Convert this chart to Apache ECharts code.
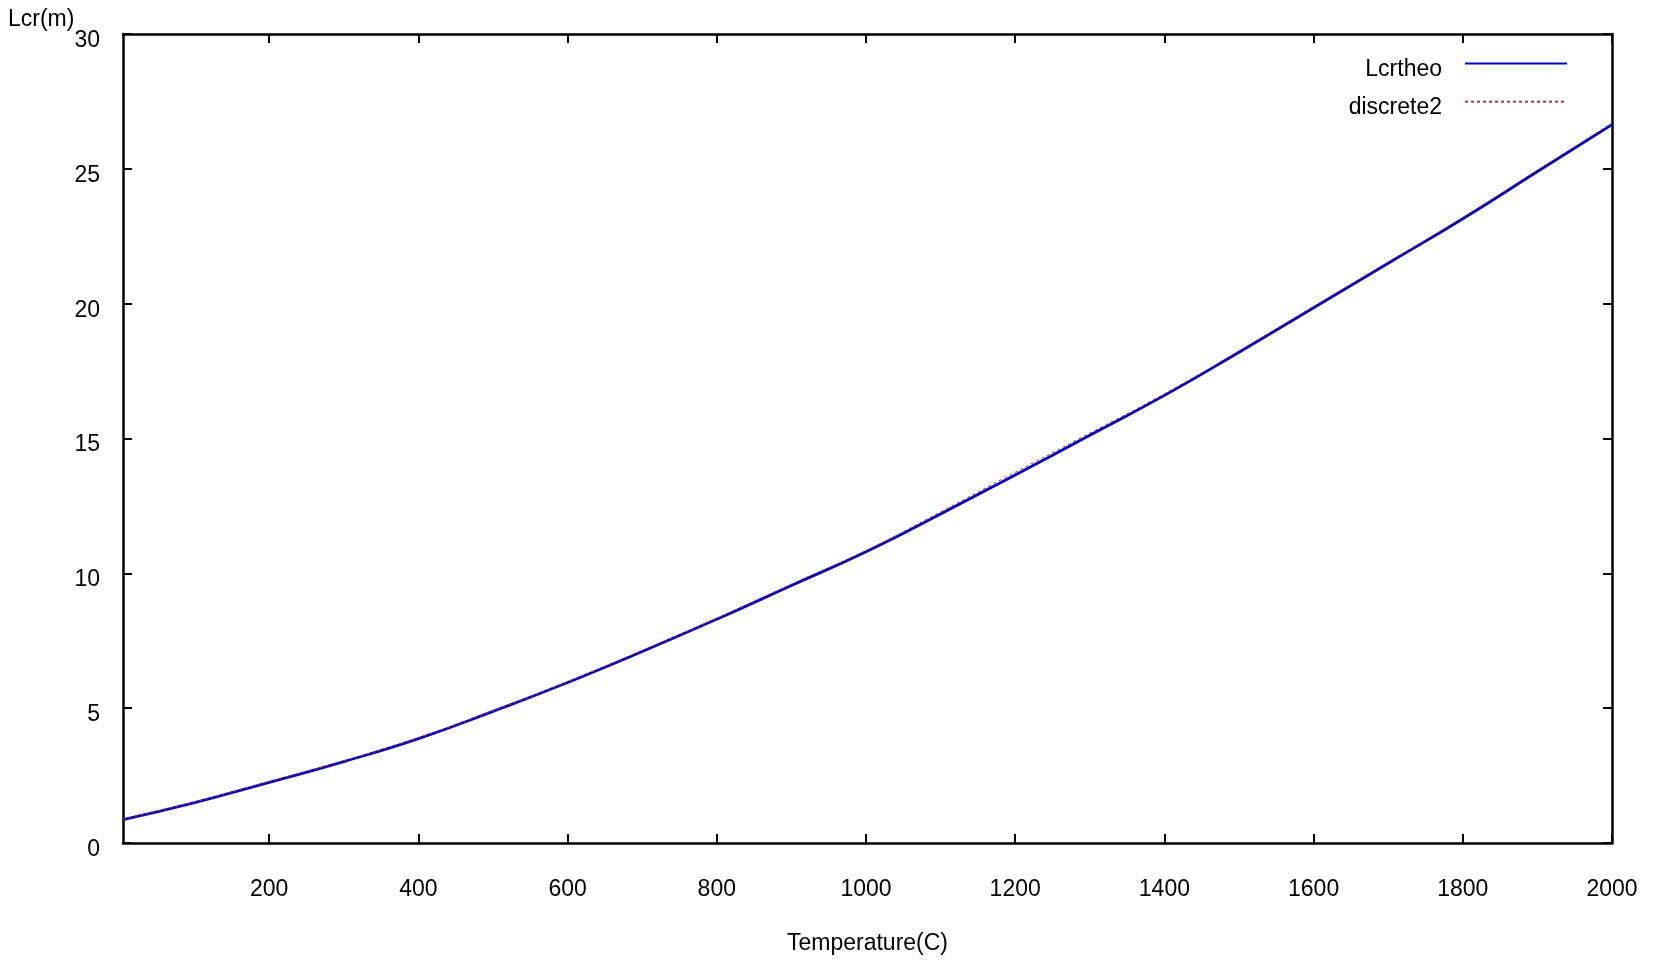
<!DOCTYPE html>
<html>
<head>
<meta charset="utf-8">
<script src="https://cdn.jsdelivr.net/npm/echarts@6/dist/echarts.min.js"></script>
<style>
  html, body { margin: 0; padding: 0; background: #fff; }
  #chart { width: 1680px; height: 969px; }
</style>
</head>
<body>
<div id="chart"></div>
<script>
  // Temperature (C) sample points and critical length (m)
  const temps = [4, 100, 200, 300, 400, 500, 600, 700, 800, 900, 1000,
                 1100, 1200, 1300, 1400, 1500, 1600, 1700, 1800, 1900, 2000]
  const lcrtheo = [0.87, 1.5, 2.25, 3.02, 3.87, 4.88, 5.95, 7.1, 8.3, 9.55, 10.8,
                   12.2, 13.65, 15.12, 16.6, 18.2, 19.85, 21.5, 23.15, 24.9, 26.64]
  const discrete2 = [0.89, 1.52, 2.28, 3.05, 3.9, 4.9, 5.98, 7.14, 8.33, 9.6, 10.85,
                     12.28, 13.75, 15.2, 16.66, 18.25, 19.9, 21.55, 23.2, 24.95, 26.7]
  const xTicks = [200, 400, 600, 800, 1000, 1200, 1400, 1600, 1800, 2000]
  const yTicks = [0, 5, 10, 15, 20, 25, 30]

  const font = 'Liberation Sans'
  const zip = (xs, ys) => xs.map((x, i) => [x, ys[i]])

  const chart = echarts.init(document.getElementById('chart'))

  const frameLine = { show: true, onZero: false, lineStyle: { color: '#000', width: 2.5 } }
  const tick = (vals) => ({
    show: true, inside: true, length: 9, customValues: vals,
    lineStyle: { color: '#000', width: 2 }
  })

  chart.setOption({
    animation: false,
    backgroundColor: '#fff',
    grid: { left: 123, top: 34, width: 1489, height: 809 },
    legend: {
      orient: 'vertical',
      right: 107,
      top: 53,
      align: 'right',
      itemWidth: 102,
      itemHeight: 14,
      itemGap: 15,
      data: ['Lcrtheo', 'discrete2'],
      itemStyle: { opacity: 0 },
      formatter: '{t|{name}}',
      textStyle: {
        fontFamily: font, fontSize: 23, color: '#000', padding: [0, 18, 0, 0],
        rich: { t: { fontFamily: font, fontSize: 23, color: '#000', padding: [12, 0, 0, 0] } }
      }
    },
    graphic: [{
      type: 'text',
      left: 8,
      top: 8,
      style: { text: 'Lcr(m)', font: '23px "Liberation Sans"', fill: '#000' }
    }],
    xAxis: [{
      type: 'value',
      min: 4,
      max: 2000,
      name: 'Temperature(C)',
      nameLocation: 'middle',
      nameGap: 89,
      nameTextStyle: { fontFamily: font, fontSize: 23, color: '#000' },
      axisLine: frameLine,
      axisTick: tick(xTicks),
      axisLabel: { customValues: xTicks, margin: 35, fontFamily: font, fontSize: 23, color: '#000',
                   formatter: (v) => String(v) },
      splitLine: { show: false }
    }, {
      type: 'value',
      position: 'top',
      min: 4,
      max: 2000,
      axisLine: frameLine,
      axisTick: tick(xTicks),
      axisLabel: { show: false },
      splitLine: { show: false }
    }],
    yAxis: [{
      type: 'value',
      min: 0,
      max: 30,
      interval: 5,
      axisLine: frameLine,
      axisTick: tick(yTicks),
      axisLabel: { customValues: yTicks, margin: 23, fontFamily: font, fontSize: 23, color: '#000',
                   verticalAlign: 'top', lineHeight: 13 },
      splitLine: { show: false }
    }, {
      type: 'value',
      position: 'right',
      min: 0,
      max: 30,
      interval: 5,
      axisLine: frameLine,
      axisTick: tick(yTicks),
      axisLabel: { show: false },
      splitLine: { show: false }
    }],
    series: [{
      name: 'Lcrtheo',
      type: 'line',
      smooth: true,
      symbol: 'none',
      data: zip(temps, lcrtheo),
      itemStyle: { color: '#0000c0' },
      lineStyle: { color: '#0000c0', width: 2.8 }
    }, {
      name: 'discrete2',
      type: 'line',
      smooth: true,
      symbol: 'none',
      data: zip(temps, discrete2),
      itemStyle: { color: '#c03030' },
      lineStyle: { color: '#c03030', width: 1, type: [3, 3] }
    }]
  })
</script>
</body>
</html>
